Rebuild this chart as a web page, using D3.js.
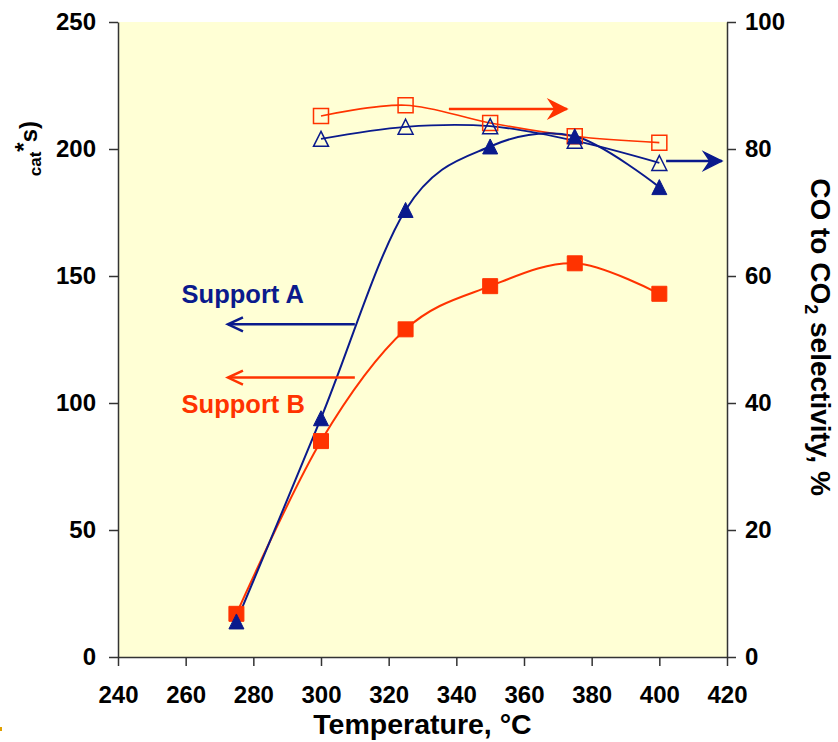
<!DOCTYPE html>
<html>
<head>
<meta charset="utf-8">
<script src="https://cdn.jsdelivr.net/npm/d3@7"></script>
<style>
  body { margin: 0; background: #fff; }
  svg { display: block; font-family: 'Liberation Sans', Arial, sans-serif; }
  .axis text { font-size: 24px; font-weight: bold; fill: #000; }
  .axis path, .axis line { stroke: #333; stroke-width: 1.5; }
</style>
</head>
<body>
<main></main>
<script>
const temps = [275, 300, 325, 350, 375, 400];
const convA = [14, 94, 176, 201, 205, 185];
const convB = [17, 85, 129, 146, 155, 143];

const selTemps = [300, 325, 350, 375, 400];
const selA = [81.6, 83.5, 83.6, 81.3, 77.8];
const selB = [85.2, 86.9, 84.1, 82.0, 81.0];

const xTicks = [240, 260, 280, 300, 320, 340, 360, 380, 400, 420];
const leftTicks = [0, 50, 100, 150, 200, 250];
const rightTicks = [0, 20, 40, 60, 80, 100];

// arrows in data units: [fromTemp, toTemp, value, axis, series]
const arrows = [
  [310, 272.5, 131, 'left', 'A'],
  [310, 272.5, 110, 'left', 'B'],
  [337.8, 372.7, 86.3, 'right', 'B'],
  [402, 418.5, 78.1, 'right', 'A'],
];

const w = 838;
const h = 742;
const margin = { top: 22, right: 111, bottom: 85, left: 118 };

const blue = '#0a1a8c';
const red = '#ff3300';

const xScale = d3.scaleLinear().domain([240, 420]).range([margin.left, w - margin.right]);
const yLeft = d3.scaleLinear().domain([0, 250]).range([h - margin.bottom, margin.top]);
const yRight = d3.scaleLinear().domain([0, 100]).range([h - margin.bottom, margin.top]);

const svg = d3.select('main').append('svg').attr('width', w).attr('height', h);

svg
  .append('rect')
  .attr('x', margin.left)
  .attr('y', margin.top)
  .attr('width', w - margin.left - margin.right)
  .attr('height', h - margin.top - margin.bottom)
  .attr('fill', '#ffffd5');

svg
  .append('g')
  .attr('class', 'axis')
  .attr('transform', `translate(0,${h - margin.bottom})`)
  .call(d3.axisBottom(xScale).tickValues(xTicks).tickSize(9).tickPadding(20).tickSizeOuter(0))
  .call(g => g.selectAll('text').attr('dy', '0.71em'));

svg
  .append('g')
  .attr('class', 'axis')
  .attr('transform', `translate(${margin.left},0)`)
  .call(d3.axisLeft(yLeft).tickValues(leftTicks).tickSize(9).tickPadding(13).tickSizeOuter(0));

svg
  .append('g')
  .attr('class', 'axis')
  .attr('transform', `translate(${w - margin.right},0)`)
  .call(d3.axisRight(yRight).tickValues(rightTicks).tickSize(9).tickPadding(9).tickSizeOuter(0));

const smooth = d3.curveCardinal.tension(0);

const lineLeft = d3.line().x(d => xScale(d[0])).y(d => yLeft(d[1])).curve(smooth);
const lineRight = d3.line().x(d => xScale(d[0])).y(d => yRight(d[1])).curve(smooth);

const series = [
  { pts: d3.zip(selTemps, selB), line: lineRight, y: yRight, color: red, shape: 'square', filled: false, sw: 1.6 },
  { pts: d3.zip(selTemps, selA), line: lineRight, y: yRight, color: blue, shape: 'triangle', filled: false, sw: 1.8 },
  { pts: d3.zip(temps, convB), line: lineLeft, y: yLeft, color: red, shape: 'square', filled: true, sw: 2 },
  { pts: d3.zip(temps, convA), line: lineLeft, y: yLeft, color: blue, shape: 'triangle', filled: true, sw: 2 },
];

const half = 7.5;
const shapes = {
  square: `M${-half},${-half}H${half}V${half}H${-half}Z`,
  triangle: `M0,${-half}L${half},${half}H${-half}Z`,
};

series.forEach(s => {
  svg
    .append('path')
    .attr('d', s.line(s.pts))
    .attr('fill', 'none')
    .attr('stroke', s.color)
    .attr('stroke-width', s.sw);
});

series.forEach(s => {
  svg
    .append('g')
    .selectAll('path')
    .data(s.pts)
    .enter()
    .append('path')
    .attr('transform', d => `translate(${xScale(d[0])},${s.y(d[1])})`)
    .attr('d', shapes[s.shape])
    .attr('fill', s.filled ? s.color : 'none')
    .attr('stroke', s.color)
    .attr('stroke-width', s.filled ? 1 : 1.5);
});

arrows.forEach(([from, to, v, axis, which]) => {
  const y = axis === 'left' ? yLeft(v) : yRight(v);
  const x1 = xScale(from);
  const x2 = xScale(to);
  const dir = Math.sign(x2 - x1);
  const color = which === 'A' ? blue : red;
  const g = svg.append('g').attr('stroke', color).attr('fill', 'none');
  g.append('line').attr('x1', x1).attr('x2', x2).attr('y1', y).attr('y2', y).attr('stroke-width', 2.5);
  if (axis === 'left') {
    g.append('path')
      .attr('d', `M${x2 - dir * 15},${y - 7}L${x2},${y}L${x2 - dir * 15},${y + 7}`)
      .attr('stroke-width', 2.5);
  } else {
    g.append('path')
      .attr('d', `M${x2 - dir * 18},${y - 9}L${x2},${y}L${x2 - dir * 18},${y + 9}L${x2 - dir * 12},${y}Z`)
      .attr('fill', color)
      .attr('stroke-width', 1.5);
  }
});

svg
  .append('text')
  .attr('x', xScale(258.8))
  .attr('y', yLeft(139.5))
  .attr('fill', blue)
  .style('font-size', '25.5px')
  .style('font-weight', 'bold')
  .text('Support A');

svg
  .append('text')
  .attr('x', xScale(258.8))
  .attr('y', yLeft(96))
  .attr('fill', red)
  .style('font-size', '25.5px')
  .style('font-weight', 'bold')
  .text('Support B');

svg
  .append('text')
  .attr('x', (margin.left + w - margin.right) / 2)
  .attr('y', 734)
  .attr('text-anchor', 'middle')
  .style('font-size', '28.5px')
  .style('font-weight', 'bold')
  .text('Temperature, °C');

const rightTitle = svg
  .append('text')
  .attr('transform', `translate(811,337) rotate(90)`)
  .attr('text-anchor', 'middle')
  .style('font-size', '28px')
  .style('font-weight', 'bold');
rightTitle.append('tspan').text('CO to CO');
rightTitle.append('tspan').attr('dy', 6).style('font-size', '18px').text('2');
rightTitle.append('tspan').attr('dy', -6).text(' selectivity, %');

const leftTitle = svg
  .append('text')
  .attr('transform', 'translate(37,121) rotate(-90)')
  .attr('text-anchor', 'end')
  .style('font-size', '24px')
  .style('font-weight', 'bold');
leftTitle.append('tspan').attr('dy', 4).style('font-size', '17px').text('cat');
leftTitle.append('tspan').attr('dy', -9).style('font-size', '24px').text('*');
leftTitle.append('tspan').attr('dy', 5).text('s)');

svg.append('rect').attr('x', 0).attr('y', 727).attr('width', 2).attr('height', 4).attr('fill', '#e0a000');
</script>
</body>
</html>
